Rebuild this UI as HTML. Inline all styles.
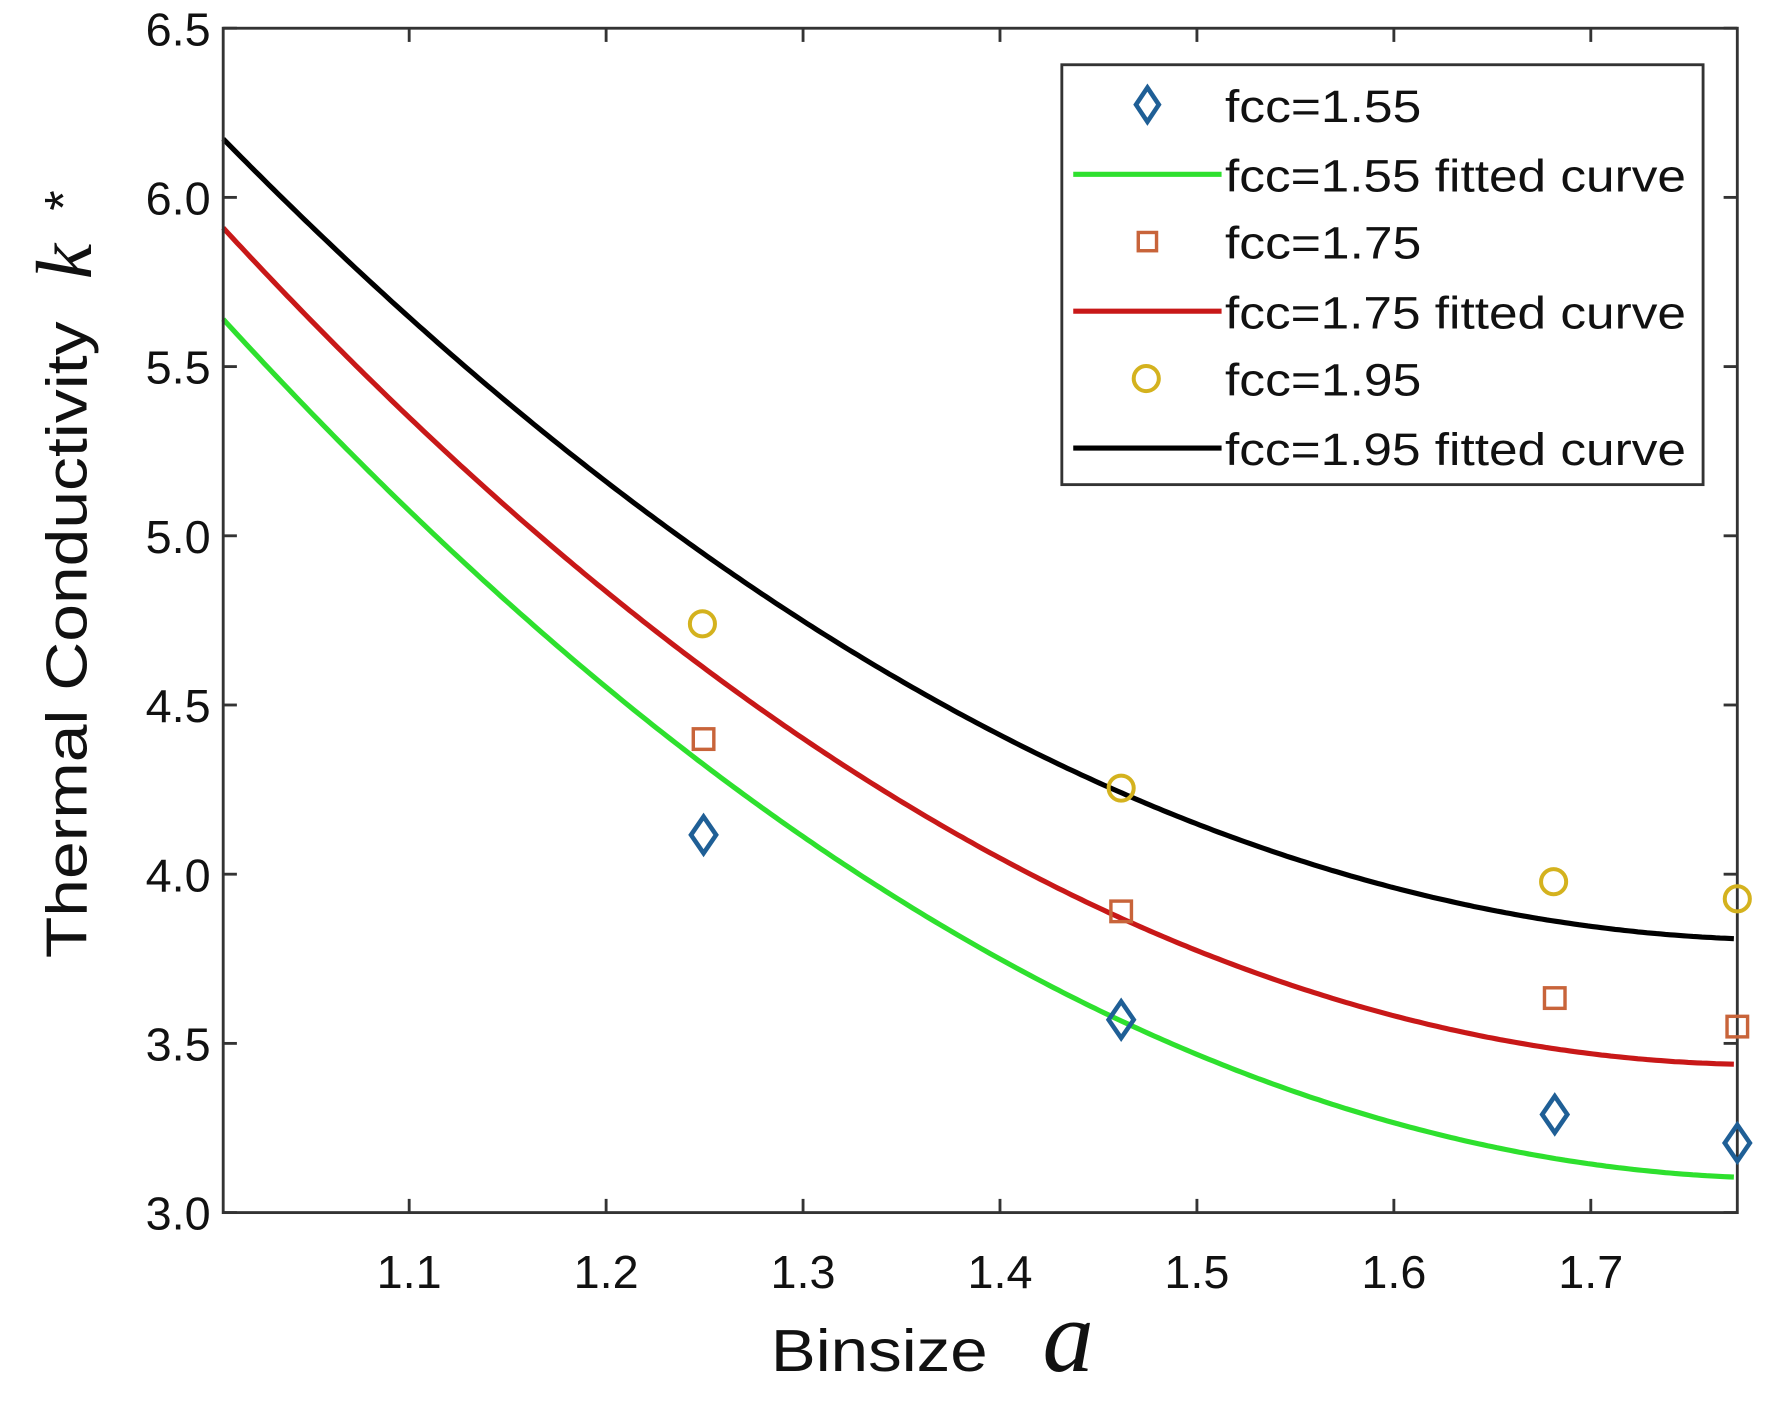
<!DOCTYPE html>
<html><head><meta charset="utf-8"><style>
html,body{margin:0;padding:0;background:#fff;}
svg{display:block;}
text{font-family:"Liberation Sans",sans-serif;fill:#111;}
</style></head><body>
<svg id="s" width="1780" height="1407" viewBox="0 0 1780 1407" xmlns="http://www.w3.org/2000/svg">
<g transform="translate(-5,-6) scale(1.141)">
<g id="curves" fill="none" stroke-width="4.5"></g>
<rect x="200" y="30" width="1327" height="1038" fill="none" stroke="#333" stroke-width="2.5"/>
<g stroke="#333" stroke-width="2.5" id="ticks"></g>
<g font-size="41" text-anchor="end" id="ylab"></g>
<g font-size="41" text-anchor="middle" id="xlab"></g>
<g fill="none" stroke="#1f5f96" stroke-width="4">
<path d="M621,721 L632,737 L621,753 L610,737 Z"/>
<path d="M987,883 L998,899 L987,915 L976,899 Z"/>
<path d="M1367,966 L1378,982 L1367,998 L1356,982 Z"/>
<path d="M1527,991 L1538,1007 L1527,1023 L1516,1007 Z"/>
</g>
<g fill="none" stroke="#c8643a" stroke-width="3">
<rect x="612" y="644" width="18" height="18"/>
<rect x="978" y="795" width="18" height="18"/>
<rect x="1358" y="871" width="18" height="18"/>
<rect x="1518" y="896" width="18" height="18"/>
</g>
<g fill="none" stroke="#d4b21e" stroke-width="3.5">
<circle cx="620" cy="552" r="11"/>
<circle cx="987" cy="696" r="11"/>
<circle cx="1366" cy="778" r="11"/>
<circle cx="1527" cy="793" r="11"/>
</g>
<rect x="935" y="62" width="562" height="368" fill="#fff" stroke="#333" stroke-width="2.5"/>
<path d="M1010,82 L1020,97 L1010,112 L1000,97 Z" fill="none" stroke="#1f5f96" stroke-width="4"/>
<line x1="945" y1="158" x2="1075" y2="158" stroke="#2ee02e" stroke-width="4.5"/>
<rect x="1002" y="209" width="16" height="16" fill="none" stroke="#c8643a" stroke-width="3"/>
<line x1="945" y1="278" x2="1075" y2="278" stroke="#c81818" stroke-width="4.5"/>
<circle cx="1009" cy="337" r="11" fill="none" stroke="#d4b21e" stroke-width="3.5"/>
<line x1="945" y1="398" x2="1075" y2="398" stroke="#000" stroke-width="4.5"/>
<g font-size="40">
<text x="1078" y="112" textLength="172" lengthAdjust="spacingAndGlyphs">fcc=1.55</text>
<text x="1078" y="173" textLength="404" lengthAdjust="spacingAndGlyphs">fcc=1.55 fitted curve</text>
<text x="1078" y="232" textLength="172" lengthAdjust="spacingAndGlyphs">fcc=1.75</text>
<text x="1078" y="293" textLength="404" lengthAdjust="spacingAndGlyphs">fcc=1.75 fitted curve</text>
<text x="1078" y="352" textLength="172" lengthAdjust="spacingAndGlyphs">fcc=1.95</text>
<text x="1078" y="413" textLength="404" lengthAdjust="spacingAndGlyphs">fcc=1.95 fitted curve</text>
</g>
<text transform="translate(80,845) rotate(-90)" font-size="50" textLength="558" lengthAdjust="spacingAndGlyphs">Thermal Conductivity</text>
<text transform="translate(84,250) rotate(-90)" font-size="70" font-style="italic" style="font-family:'Liberation Serif',serif">k</text>
<text transform="translate(76,190) rotate(-90)" font-size="46">*</text>
<text x="680" y="1207" font-size="52" textLength="190" lengthAdjust="spacingAndGlyphs">Binsize</text>
<text x="918" y="1207" font-size="90" font-style="italic" style="font-family:'Liberation Serif',serif">a</text>
</g>
</svg>
<script>
var NS="http://www.w3.org/2000/svg";
function el(p,t,a){var e=document.createElementNS(NS,t);for(var k in a)e.setAttribute(k,a[k]);p.appendChild(e);return e;}
function quad(p){
  var x0=p[0][0],y0=p[0][1],x1=p[1][0],y1=p[1][1],x2=p[2][0],y2=p[2][1];
  var d=[];
  for(var x=200;x<=1527;x+=4){
    var L0=(x-x1)*(x-x2)/((x0-x1)*(x0-x2)),L1=(x-x0)*(x-x2)/((x1-x0)*(x1-x2)),L2=(x-x0)*(x-x1)/((x2-x0)*(x2-x1));
    d.push((d.length?"L":"M")+x+","+(y0*L0+y1*L1+y2*L2).toFixed(1));
  }
  return d.join(" ");
}
var c=document.getElementById("curves");
el(c,"path",{d:quad([[200,285],[987,900],[1527,1037]]),stroke:"#2ee02e"});
el(c,"path",{d:quad([[200,205],[987,810],[1527,938]]),stroke:"#c81818"});
el(c,"path",{d:quad([[200,127],[987,700],[1527,828]]),stroke:"#000"});
var t=document.getElementById("ticks"),yl=document.getElementById("ylab"),xl=document.getElementById("xlab");
for(var i=0;i<8;i++){
  var y=1068-i*148.29;
  el(t,"line",{x1:200,y1:y,x2:212,y2:y});el(t,"line",{x1:1527,y1:y,x2:1515,y2:y});
  var tx=el(yl,"text",{x:189,y:y+15});tx.textContent=(3+i*0.5).toFixed(1);
}
for(var i=0;i<7;i++){
  var x=363+i*172.6;
  el(t,"line",{x1:x,y1:1068,x2:x,y2:1056});el(t,"line",{x1:x,y1:30,x2:x,y2:42});
  var tx=el(xl,"text",{x:x,y:1134});tx.textContent=(1.1+i*0.1).toFixed(1);
}
</script>
</body></html>
